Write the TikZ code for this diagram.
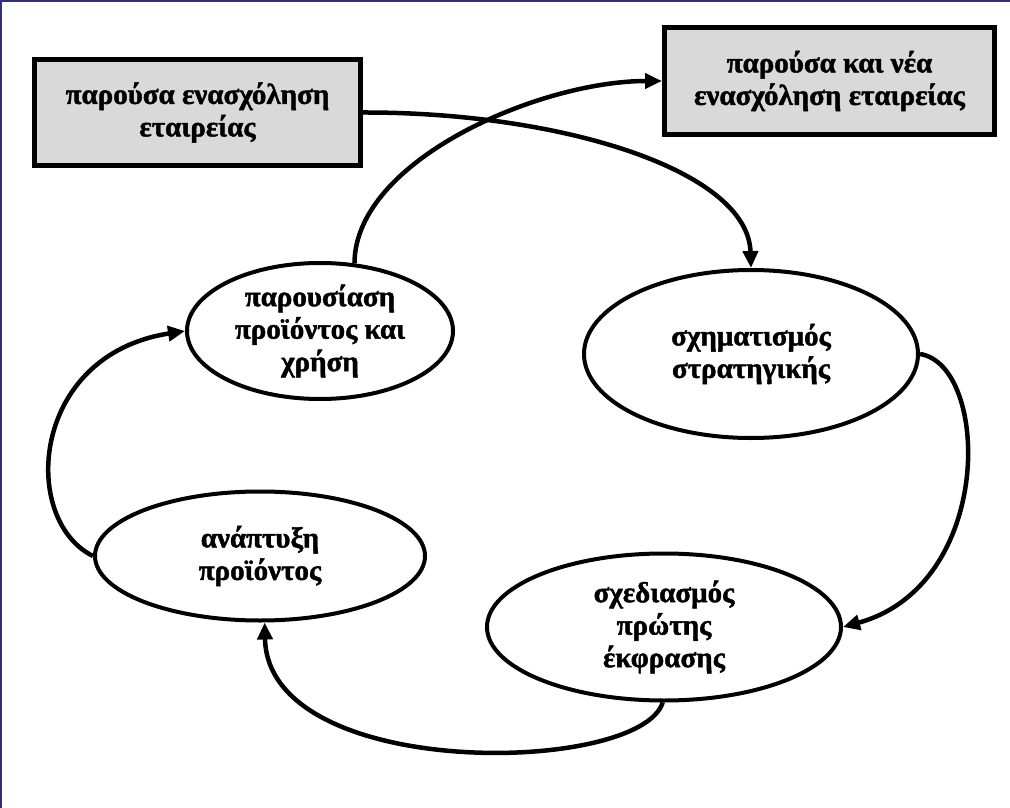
\documentclass[tikz,border=0pt]{standalone}
\usepackage{fontspec}
\setmainfont{Liberation Serif}[BoldFeatures={FakeBold=1.5}]
\usetikzlibrary{shapes.geometric,arrows.meta}
\definecolor{boxgray}{HTML}{D9D9D9}
\definecolor{framenavy}{HTML}{2E3270}
\newcommand\dtxt{\fontsize{29}{32.5}\selectfont\bfseries}
\begin{document}
\begin{tikzpicture}[x=1pt,y=-1pt,
  box/.style={draw=black,line width=5pt,fill=boxgray,align=center,font=\dtxt,inner sep=0pt},
  oval/.style={ellipse,draw=black,line width=4pt,fill=white,align=center,font=\dtxt,inner sep=0pt},
  conn/.style={line width=4.5pt,-{Triangle[length=17pt,width=15pt]}}]
\useasboundingbox (0,0) rectangle (1010,808);
\fill[white] (0,0) rectangle (1010,808);
\draw[framenavy,line width=2.5pt] (1,808) -- (1,1) -- (1010,1);

\node[box,minimum width=326pt,minimum height=106pt] (b1) at (197.5,112.5) {παρούσα ενασχόληση\\εταιρείας};
\node[box,minimum width=330pt,minimum height=107pt] (b2) at (829.5,81) {παρούσα και νέα\\ενασχόληση εταιρείας};

\node[oval,minimum width=266pt,minimum height=136pt] (e1) at (320,331) {παρουσίαση\\προϊόντος και\\χρήση};
\node[oval,minimum width=334pt,minimum height=168pt] (e2) at (751,354) {σχηματισμός\\στρατηγικής};
\node[oval,minimum width=330pt,minimum height=129pt] (e3) at (260,556) {ανάπτυξη\\προϊόντος};
\node[oval,minimum width=354pt,minimum height=147pt] (e4) at (664,627) {σχεδιασμός\\πρώτης\\έκφρασης};

\draw[conn] (b1.east) .. controls (560,112) and (748,170) .. (e2.north);
\draw[conn] (e1.63) .. controls (355,160) and (540,81) .. (b2.west);
\draw[conn] (e2.east) .. controls (990,365) and (995,585) .. (e4.east);
\draw[conn] (e4.-91) .. controls (640,775) and (268,782) .. (e3.-86);
\draw[conn] (e3.west) .. controls (20,520) and (30,355) .. (e1.west);
\end{tikzpicture}
\end{document}
